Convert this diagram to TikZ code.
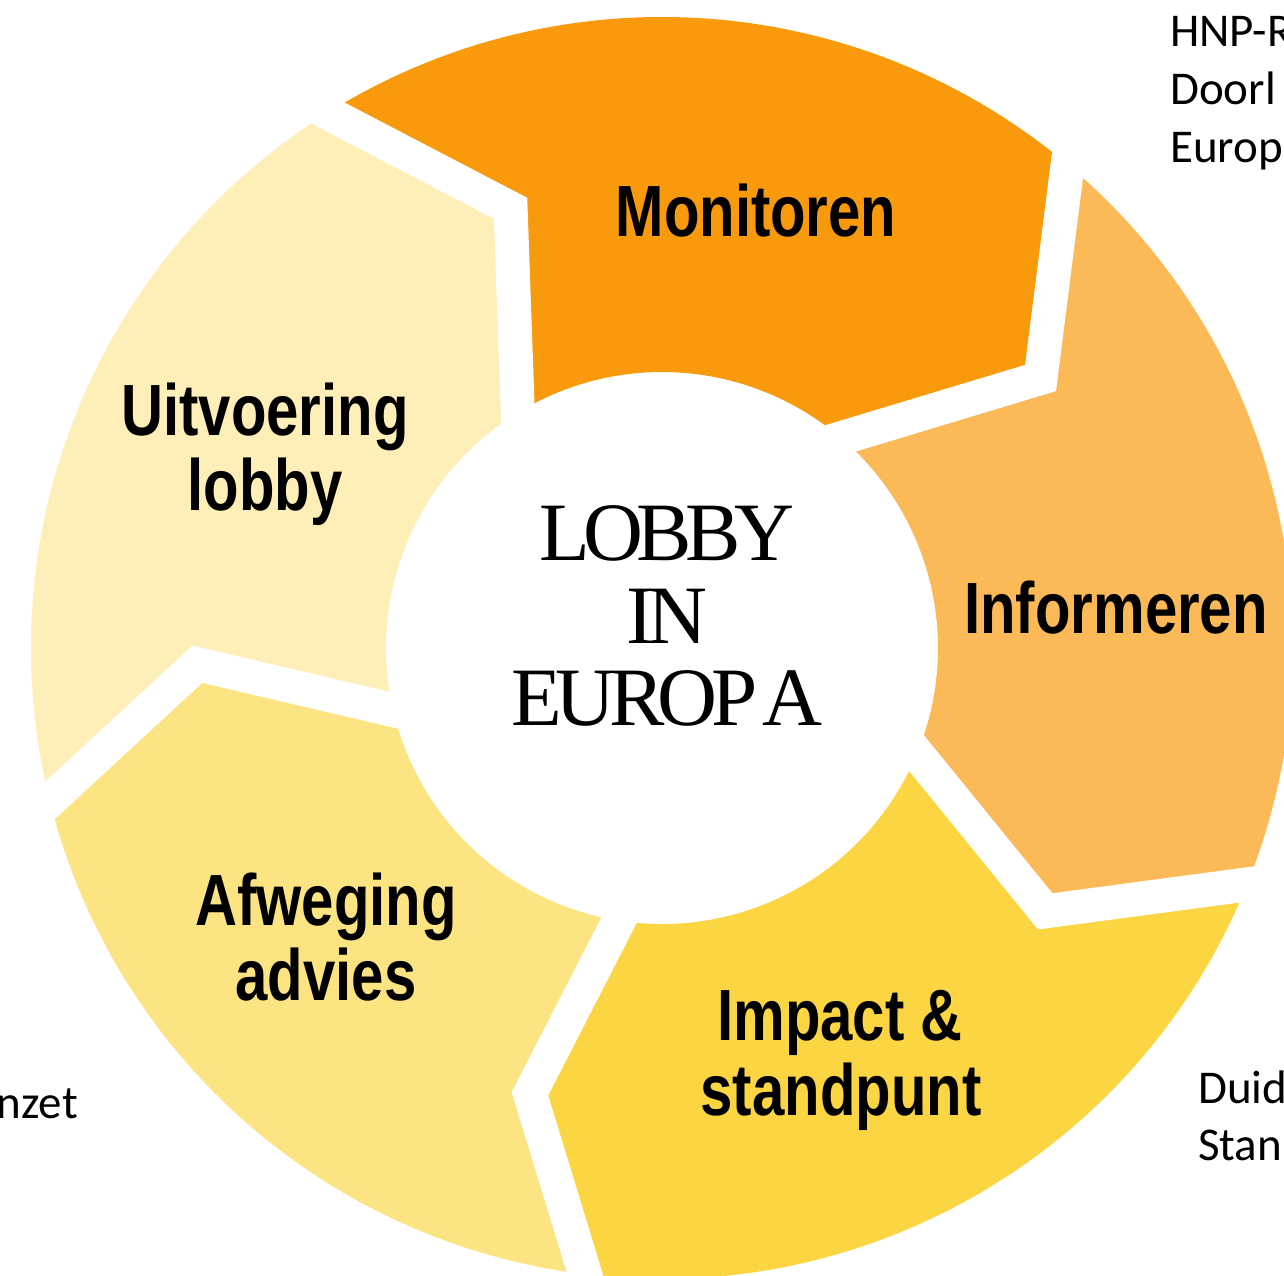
\documentclass[tikz,border=0pt]{standalone}
\usepackage{fontspec}
\setmainfont{Liberation Serif}
\newfontfamily\lblfont[FakeStretch=0.8]{Liberation Sans}
\newfontfamily\ctrfont[LetterSpace=-8]{Liberation Serif}
\newfontfamily\sidefont{Carlito}
\usetikzlibrary{calc}
\definecolor{monC}{RGB}{248,154,12}
\definecolor{infC}{RGB}{251,185,87}
\definecolor{impC}{RGB}{251,214,66}
\definecolor{afwC}{RGB}{252,228,130}
\definecolor{uitC}{RGB}{253,239,183}
\def\Ro{631pt}
\def\Rm{465pt}
\def\Ri{276pt}
\tikzset{
  gap/.style={draw=white, line width=34pt, line join=miter},
  lbl/.style={font=\lblfont\bfseries\fontsize{72.6}{75}\selectfont, inner sep=0pt, anchor=base},
  ctr/.style={font=\ctrfont\fontsize{83}{83}\selectfont, inner sep=0pt, anchor=base},
  side/.style={font=\sidefont\fontsize{47}{58}\selectfont, inner sep=0pt}
}
\begin{document}
\begin{tikzpicture}[x=1pt,y=1pt]
\useasboundingbox (-662,-627) rectangle (622,648);
% boundary points: outer, mid, inner
\coordinate (O1) at (122:\Ro);  \coordinate (M1) at (109:\Rm);   \coordinate (I1) at (121.5:\Ri);
\coordinate (O2) at (50:\Ro);   \coordinate (M2) at (35.5:\Rm);  \coordinate (I2) at (49.5:\Ri);
\coordinate (O3) at (-22:\Ro);  \coordinate (M3) at (-34.5:\Rm); \coordinate (I3) at (-22.5:\Ri);
\coordinate (O4) at (-97:\Ro);  \coordinate (M4) at (-106.5:\Rm);\coordinate (I4) at (-99:\Ri);
\coordinate (O5) at (-166:\Ro); \coordinate (M5) at (-178:\Rm);  \coordinate (I5) at (-167:\Ri);
% segments
\fill[monC] (O1) arc[start angle=122, end angle=50, radius=\Ro] -- (M2) -- (I2)
  arc[start angle=49.5, end angle=121.5, radius=\Ri] -- (M1) -- cycle;
\fill[infC] (O2) arc[start angle=50, end angle=-22, radius=\Ro] -- (M3) -- (I3)
  arc[start angle=-22.5, end angle=49.5, radius=\Ri] -- (M2) -- cycle;
\fill[impC] (O3) arc[start angle=-22, end angle=-97, radius=\Ro] -- (M4) -- (I4)
  arc[start angle=-99, end angle=-22.5, radius=\Ri] -- (M3) -- cycle;
\fill[afwC] (O4) arc[start angle=-97, end angle=-166, radius=\Ro] -- (M5) -- (I5)
  arc[start angle=-167, end angle=-99, radius=\Ri] -- (M4) -- cycle;
\fill[uitC] (O5) arc[start angle=-166, end angle=-238, radius=\Ro] -- (M1) -- (I1)
  arc[start angle=-238.5, end angle=-167, radius=\Ri] -- (M5) -- cycle;
% white gaps
\foreach \k in {1,...,5}{
  \draw[gap] ($(M\k)!1.3!(O\k)$) -- (M\k) -- ($(M\k)!1.3!(I\k)$);
}
% labels
\node[lbl] (mon) at (94,411) {Monitoren};
\node[lbl] (inf) at (454,15) {Informeren};
\node[lbl] (imp1) at (178,-392) {Impact \&};
\node[lbl] (imp2) at (179,-467) {standpunt};
\node[lbl] (afw1) at (-336,-277) {Afweging};
\node[lbl] (afw2) at (-336,-352) {advies};
\node[lbl] (uit1) at (-397,213) {Uitvoering};
\node[lbl] (uit2) at (-397,138) {lobby};
% center
\node[ctr] (c1) at (5,88) {LOBBY};
\node[ctr] (c2) at (5,5) {IN};
\node[ctr] (c3) at (5,-77) {EUROP\hspace{-9pt} A};
% side texts (cut by the page edge as in the reference)
\node[side, anchor=base west] (s1) at (508,601) {HNP-R};
\node[side, anchor=base west] (s2) at (508,543) {Doorl};
\node[side, anchor=base west] (s3) at (508,485) {Europ};
\node[side, anchor=base west] (s4) at (536,-455) {Duid};
\node[side, anchor=base west] (s5) at (536,-512) {Stan};
\node[side, anchor=base east] (s6) at (-584,-470) {nzet};
\end{tikzpicture}
\end{document}
